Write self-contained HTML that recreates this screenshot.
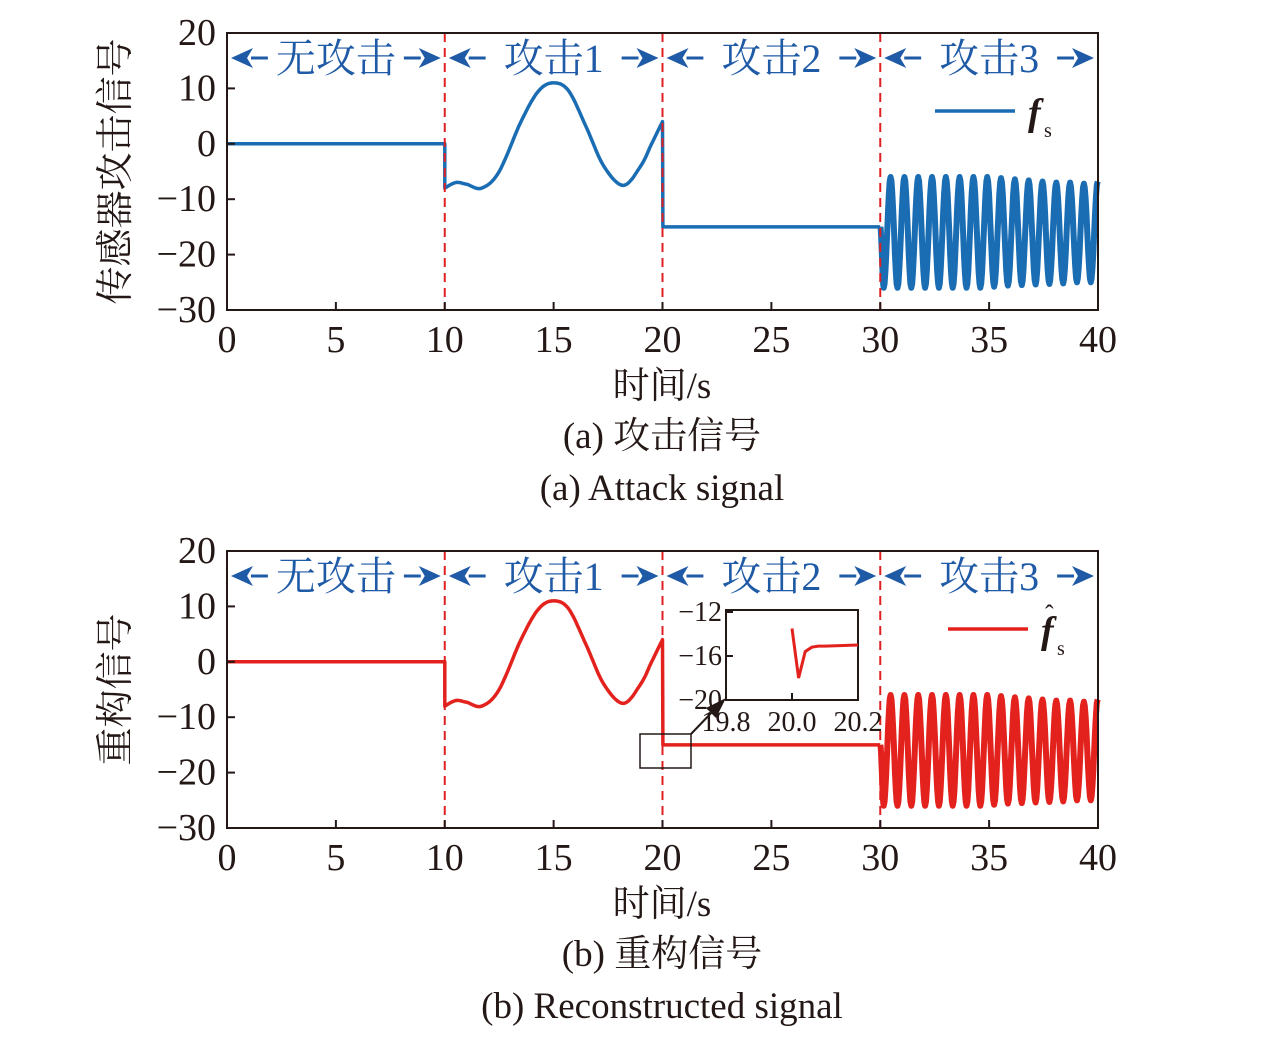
<!DOCTYPE html>
<html><head><meta charset="utf-8"><style>
body{margin:0;background:#fff}
svg{display:block}
.t{font-family:"Liberation Serif","Noto Serif CJK SC",serif;fill:#231815}
.cn{font-family:"Liberation Serif","Noto Serif CJK SC","Noto Sans CJK SC",serif;fill:#231815}
.ann{font-family:"Liberation Serif","Noto Serif CJK SC",serif;fill:#1f5aa6;font-size:40px}
</style></head><body>
<svg id="svg" width="1276" height="1038" viewBox="0 0 1276 1038" xmlns="http://www.w3.org/2000/svg"></svg>
<script>
// ---- data ----
const xTicks=[0,5,10,15,20,25,30,35,40];
const yTicks=[20,10,0,-10,-20,-30];
const attackBounds=[10,20,30];
const regionLabels=["无攻击","攻击1","攻击2","攻击3"];
const regionCenters=[5,15,25,35];
const seg1T=[10,10.5,11,11.7,12.5,13.5,14.3,15,15.7,16.5,17.3,18.2,19,19.5,20];
const seg1V=[-8,-7,-7.3,-8,-5,4,9.5,11,9.5,3,-4,-7.5,-4,0,4];
const constLevel=-15;
const oscPeriod=0.634;
const oscPeaks=[-6,-6,-6,-6,-6,-6,-6,-6,-6.2,-6.4,-6.6,-6.8,-7,-7,-7.2,-6.8];
const oscTroughs=[-26,-26,-26,-26,-26,-26,-26,-26,-25.8,-25.6,-25.5,-25.4,-25.3,-25.2,-25,-25];
const insetT=[19.8,20.0,20.02,20.04,20.06,20.08,20.1,20.2];
const insetV=[null,-13.5,-18,-15.6,-15.2,-15.1,-15.1,-15];
const insetXTicks=[19.8,20.0,20.2];
const insetYTicks=[-12,-16,-20];

const svg=document.getElementById('svg');
const NS="http://www.w3.org/2000/svg";
function mk(tag,attrs,parent,text){const e=document.createElementNS(NS,tag);for(const k in attrs)e.setAttribute(k,attrs[k]);if(text!==undefined)e.textContent=text;(parent||svg).appendChild(e);return e;}

const X0=227,X1=1098;
function xs(t){return X0+(t/40)*(X1-X0);}

function signalPts(){
  const pts=[];
  for(let t=0;t<=10;t+=0.5)pts.push([t,0]);
  const n=seg1T.length;
  for(let i=0;i<n-1;i++){
    const p0=i>0?i-1:i,p3=i+2<n?i+2:i+1;
    for(let s=0;s<10;s++){const u=s/10;
      const f=(a,b,c,d)=>0.5*((2*b)+(-a+c)*u+(2*a-5*b+4*c-d)*u*u+(-a+3*b-3*c+d)*u*u*u);
      pts.push([f(seg1T[p0],seg1T[i],seg1T[i+1],seg1T[p3]),f(seg1V[p0],seg1V[i],seg1V[i+1],seg1V[p3])]);}
  }
  pts.push([20,seg1V[n-1]]);
  pts.push([20.02,constLevel]);pts.push([30,constLevel]);
  return pts;
}
function oscPts(){
  const pts=[[30,constLevel]];
  let t=30,prev=constLevel;
  for(let k=0;k<oscPeaks.length;k++){
    const ext=[[oscTroughs[k],k===0?oscPeriod/4:oscPeriod/2],[oscPeaks[k],oscPeriod/2]];
    for(const [v,d] of ext){
      for(let s=1;s<=8;s++){const u=s/8;const tt=Math.min(40,t+d*u);
        pts.push([tt,prev+(v-prev)*(1-Math.cos(Math.PI*u))/2]);}
      t+=d;prev=v;if(t>=40)break;
    }
    if(t>=40)break;
  }
  return pts;
}

function panel(top,color,name,ytitle,legendHat,cap1,cap2,inset){
  const Y0=top,Y1=top+277;
  const ys=v=>Y0+(20-v)/50*(Y1-Y0);
  const g=mk('g',{});
  
  const pts=signalPts();
  const d=pts.map((p,i)=>(i?'L':'M')+xs(p[0]).toFixed(1)+','+ys(p[1]).toFixed(1)).join('');
  const path=mk('path',{d:d,fill:'none',stroke:color,'stroke-width':3.5,'stroke-linejoin':'round'},g);
  
  
  const op=oscPts();
  const d3=op.map((p,i)=>(i?'L':'M')+xs(p[0]).toFixed(1)+','+ys(p[1]).toFixed(1)).join('');
  const path2=mk('path',{d:d3,fill:'none',stroke:color,'stroke-width':6,'stroke-linejoin':'round'},g);
  
  
  for(const b of attackBounds){
    const l=mk('line',{x1:xs(b),x2:xs(b),y1:Y0,y2:Y1,stroke:'#e02020','stroke-width':2,'stroke-dasharray':'9,6'},g);
    
    
  }
  const fr=mk('rect',{x:X0,y:Y0,width:X1-X0,height:Y1-Y0,fill:'none',stroke:'#231815','stroke-width':2},g);
  
  
  for(const t of xTicks){
    mk('line',{x1:xs(t),x2:xs(t),y1:Y1,y2:Y1-8,stroke:'#231815','stroke-width':2},g);
    const tx=mk('text',{x:xs(t),y:Y1+42,'text-anchor':'middle','font-size':38,class:'t'},g,String(t));
    
    
  }
  for(const v of yTicks){
    mk('line',{x1:X0,x2:X0+8,y1:ys(v),y2:ys(v),stroke:'#231815','stroke-width':2},g);
    const tx=mk('text',{x:216,y:ys(v)+12,'text-anchor':'end','font-size':38,class:'t'},g,v<0?'−'+(-v):String(v));
    
    
  }
  const ay=Y0+25;
  regionLabels.forEach((lab,i)=>{
    const cx=xs(regionCenters[i]);
    const a=mk('text',{x:cx,y:ay+14,'text-anchor':'middle',class:'ann'},g,lab);
    
    
    const halfTxt=lab.length===3?62:52;
    const l=xs(regionCenters[i]-5)+4,r=xs(regionCenters[i]+5)-4;
    mk('path',{d:`M${l+20},${ay}L${cx-halfTxt-6},${ay}M${cx+halfTxt+6},${ay}L${r-20},${ay}`,stroke:'#1f5aa6','stroke-width':3},g);
    mk('path',{d:`M${l},${ay}L${l+22},${ay-10}L${l+16},${ay}L${l+22},${ay+10}ZM${r},${ay}L${r-22},${ay-10}L${r-16},${ay}L${r-22},${ay+10}Z`,fill:'#1f5aa6'},g);
  });
  const ly=Y0+78;
  const lg=mk('g',{},g);
  
  
  const lx=legendHat?948:935;
  mk('line',{x1:lx,x2:lx+80,y1:ly,y2:ly,stroke:color,'stroke-width':3.5},lg);
  mk('text',{x:lx+93,y:ly+14,'font-size':38,'font-style':'italic','font-weight':'bold',class:'t'},lg,'f');
  mk('text',{x:lx+109,y:ly+26,'font-size':20,class:'t'},lg,'s');
  if(legendHat)mk('text',{x:lx+97,y:ly-6,'font-size':26,class:'t'},lg,'ˆ');
  const yt=mk('text',{transform:`translate(128,${(Y0+Y1)/2}) rotate(-90)`,'text-anchor':'middle','font-size':38,class:'cn'},g,ytitle);
  
  
  const xt=mk('text',{x:662,y:Y1+88,'text-anchor':'middle','font-size':37,class:'cn'},g,'时间/s');
  
  
  const c1=mk('text',{x:662,y:Y1+138,'text-anchor':'middle','font-size':37,class:'cn'},g,cap1);
  
  
  const c2=mk('text',{x:662,y:Y1+190,'text-anchor':'middle','font-size':37,class:'t'},g,cap2);
  
  
  if(inset){
    const ig=mk('g',{},g);
    
    
    const IX0=726,IX1=858,IY0=612,IY1=700;
    const ix=t=>IX0+(t-19.8)/0.4*(IX1-IX0);
    const iy=v=>IY0+(-12-v)/8*(IY1-IY0);
    mk('rect',{x:IX0,y:610,width:IX1-IX0,height:90,fill:'#fff',stroke:'#231815','stroke-width':2},ig);
    for(const t of insetXTicks){mk('line',{x1:ix(t),x2:ix(t),y1:IY1,y2:IY1-7,stroke:'#231815','stroke-width':2},ig);
      mk('text',{x:ix(t),y:IY1+31,'text-anchor':'middle','font-size':28,class:'t'},ig,t.toFixed(1));}
    for(const v of insetYTicks){mk('line',{x1:IX0,x2:IX0+7,y1:iy(v),y2:iy(v),stroke:'#231815','stroke-width':2},ig);
      mk('text',{x:IX0-4,y:iy(v)+9,'text-anchor':'end','font-size':28,class:'t'},ig,'−'+(-v));}
    let d2='';insetT.forEach((t,i)=>{if(insetV[i]!==null)d2+=(d2?'L':'M')+ix(t).toFixed(1)+','+iy(insetV[i]).toFixed(1);});
    mk('path',{d:d2,fill:'none',stroke:color,'stroke-width':3},ig);
    mk('rect',{x:640,y:734,width:51,height:34,fill:'none',stroke:'#231815','stroke-width':1.5},ig);
    mk('line',{x1:691,y1:734,x2:716,y2:708,stroke:'#231815','stroke-width':2},ig);
    mk('path',{d:'M726,698L706,708L716,718Z',fill:'#231815'},ig);
  }
}
panel(33,'#1a6db3','panel-a-attack-signal','传感器攻击信号',false,'(a) 攻击信号','(a) Attack signal',false);
panel(551,'#e3221e','panel-b-reconstructed-signal','重构信号',true,'(b) 重构信号','(b) Reconstructed signal',true);
</script>
</body></html>
